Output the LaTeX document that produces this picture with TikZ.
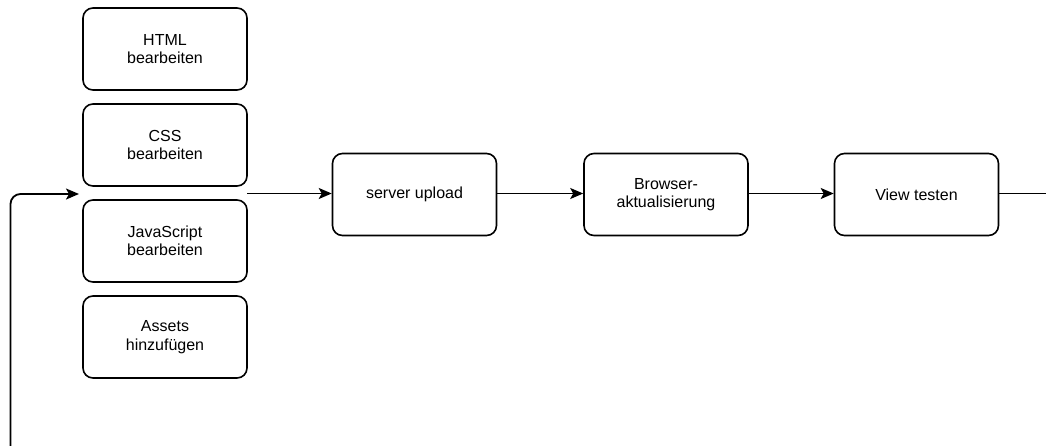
\documentclass[tikz,border=0pt]{standalone}
\usepackage{fontspec}
\setmainfont{Liberation Sans}
\usetikzlibrary{arrows.meta}
\begin{document}
\begin{tikzpicture}[x=1pt,y=-1pt,
  stepbox/.style={draw, line width=1.6pt, rounded corners=10pt, minimum width=164pt, minimum height=82pt, align=center, font=\fontsize{16}{18.5}\selectfont, inner sep=0pt},
  flow/.style={line width=1.8pt, -{Stealth[length=13pt,width=11pt,inset=3pt]}},
  plain/.style={line width=1.8pt}]
\useasboundingbox (0,0) rectangle (1046,445);
% column of editing steps
\node[stepbox] (html) at (165,49) {HTML\\bearbeiten};
\node[stepbox] (css) at (165,145) {CSS\\bearbeiten};
\node[stepbox] (js) at (165,241) {JavaScript\\bearbeiten};
\node[stepbox] (assets) at (165,337) {Assets\\hinzufügen};
% deployment chain
\node[stepbox] (upload) at (414.5,194.5) {server upload};
\node[stepbox] (browser) at (666,194.5) {Browser-\\aktualisierung};
\node[stepbox] (view) at (916.5,194.5) {View testen};
\coordinate (split) at (247,193.5);
\coordinate (merge) at (79,194);
\coordinate (loopin) at (10.5,450);
\coordinate (loopout) at (1050,193.5);
\draw[flow] (split) -- (upload.west |- split);
\draw[flow] (upload.east |- split) -- (browser.west |- split);
\draw[flow] (browser.east |- split) -- (view.west |- split);
\draw[plain] (view.east |- loopout) -- (loopout);
% feedback loop back to the editing steps
\draw[flow, rounded corners=10pt] (loopin) -- (loopin |- merge) -- (merge);
\end{tikzpicture}
\end{document}
